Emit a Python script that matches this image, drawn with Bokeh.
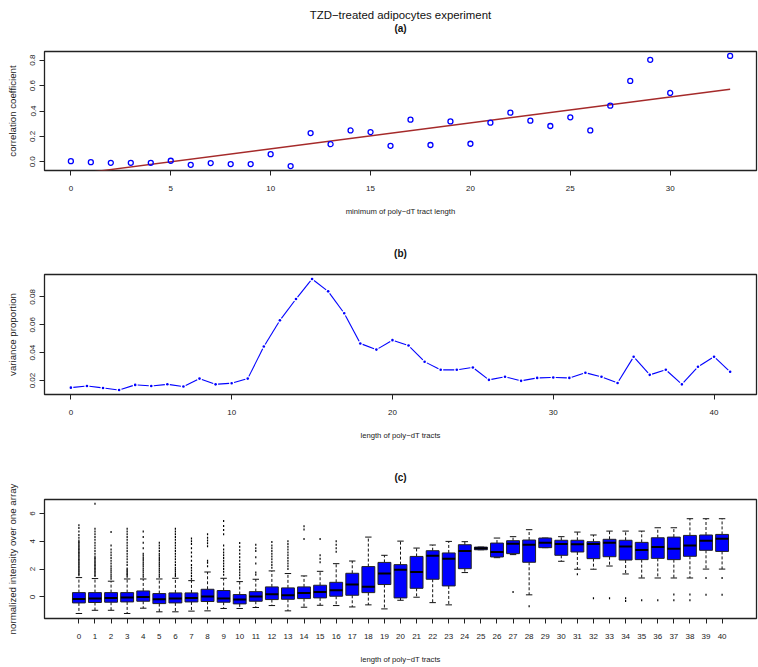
import numpy as np
from bokeh.plotting import figure
from bokeh.models import Title, FixedTicker, Range1d, PrintfTickFormatter
from bokeh.layouts import column
from bokeh.embed import file_html
from bokeh.resources import INLINE

FONT = "Liberation Sans"

# ---------------- data ----------------
main_title = "TZD\u2212treated adipocytes experiment"

# (a) correlation coefficient vs minimum poly-dT tract length
a_x = [0, 1, 2, 3, 4, 5, 6, 7, 8, 9, 10, 11, 12, 13, 14, 15, 16, 17, 18, 19,
       20, 21, 22, 23, 24, 25, 26, 27, 28, 29, 30, 33]
a_y = [0.005, -0.003, -0.008, -0.008, -0.008, 0.008, -0.024, -0.010, -0.018, -0.018,
       0.060, -0.034, 0.226, 0.139, 0.247, 0.234, 0.126, 0.332, 0.132, 0.318,
       0.142, 0.308, 0.387, 0.324, 0.282, 0.350, 0.247, 0.442, 0.637, 0.803,
       0.542, 0.834]
a_fit_intercept = -0.102
a_fit_slope = 0.0204

# (b) variance proportion vs poly-dT tract length
b_x = list(range(42))
b_y = [0.0149, 0.0161, 0.0147, 0.0132, 0.0169, 0.0161, 0.0173, 0.0157, 0.0214, 0.0173,
       0.0181, 0.0214, 0.0444, 0.0632, 0.0785, 0.0929, 0.0840, 0.0683, 0.0466, 0.0422,
       0.0490, 0.0451, 0.0335, 0.0277, 0.0277, 0.0294, 0.0205, 0.0227, 0.0198, 0.0219,
       0.0222, 0.0219, 0.0256, 0.0227, 0.0183, 0.0371, 0.0241, 0.0277, 0.0173, 0.0299,
       0.0371, 0.0263]

# (c) boxplots of normalized intensity by tract length
c_len = list(range(41))
c_lo = [-1.19, -0.96, -0.96, -1.19, -0.81, -1.07, -1.07, -1.02, -1.00, -0.83,
        -0.83, -0.76, -0.62, -1.00, -0.74, -0.60, -0.62, -0.72, -0.57, -0.86,
        -0.24, -0.02, -0.41, -0.57, 1.75, 3.39, 2.82, 3.04, 0.15, 3.54,
        2.56, 1.99, 1.99, 2.22, 1.65, 1.36, 1.36, 1.36, 1.36, 2.00, 2.00]
c_q1 = [-0.43, -0.40, -0.38, -0.36, -0.31, -0.48, -0.43, -0.36, -0.33, -0.38,
        -0.50, -0.31, -0.19, -0.17, -0.12, -0.07, 0.05, 0.12, 0.31, 0.89,
        -0.07, 0.62, 1.27, 0.79, 2.03, 3.39, 2.87, 3.11, 2.49, 3.54,
        2.99, 3.23, 2.75, 2.89, 2.65, 2.68, 2.77, 2.68, 2.92, 3.35, 3.27]
c_med = [-0.14, -0.12, -0.07, -0.05, 0.00, -0.17, -0.12, -0.07, 0.03, -0.12,
         -0.19, 0.03, 0.19, 0.12, 0.29, 0.36, 0.48, 0.89, 0.74, 1.68,
         1.96, 1.79, 2.96, 2.75, 3.30, 3.49, 3.23, 3.82, 3.75, 3.90,
         3.80, 3.78, 3.80, 3.90, 3.63, 3.37, 3.58, 3.47, 3.70, 4.04, 4.18]
c_q3 = [0.31, 0.31, 0.31, 0.31, 0.43, 0.24, 0.29, 0.29, 0.55, 0.46,
        0.17, 0.38, 0.72, 0.65, 0.72, 0.84, 1.05, 1.70, 2.18, 2.48,
        2.32, 2.91, 3.32, 3.16, 3.75, 3.58, 3.87, 4.04, 4.09, 4.23,
        4.07, 4.07, 3.97, 4.14, 4.07, 3.92, 4.25, 4.30, 4.42, 4.45, 4.49]
c_hi = [1.39, 1.32, 1.13, 1.29, 1.29, 1.29, 1.34, 1.17, 1.79, 1.34,
        1.10, 1.27, 1.87, 1.68, 1.51, 1.84, 2.39, 2.58, 4.30, 2.99,
        4.01, 3.51, 3.73, 3.99, 3.97, 3.58, 4.23, 4.33, 4.83, 4.23,
        4.33, 4.66, 4.45, 4.73, 4.73, 4.73, 4.97, 4.97, 5.62, 5.62, 5.62]
c_out = [
    [1.55, 1.65, 1.75, 1.85, 1.95, 2.05, 2.15, 2.25, 2.35, 2.45, 2.55, 2.65, 2.75, 2.85,
     2.95, 3.05, 3.15, 3.25, 3.35, 3.45, 3.55, 3.65, 3.75, 3.85, 3.95, 4.05, 4.25, 4.45,
     4.7, 4.95, 5.15],
    [1.5, 1.6, 1.7, 1.8, 1.9, 2.0, 2.1, 2.2, 2.3, 2.4, 2.5, 2.6, 2.7, 2.8, 2.9, 3.1, 3.3,
     3.5, 3.7, 3.9, 4.1, 4.3, 4.5, 4.7, 4.9, 6.7],
    [1.3, 1.45, 1.6, 1.75, 1.9, 2.05, 2.2, 2.4, 2.6, 2.8, 3.0, 3.2, 3.4, 3.7, 4.66],
    [1.45, 1.55, 1.65, 1.75, 1.85, 1.95, 2.05, 2.3, 2.5, 2.7, 2.9, 3.1, 3.3, 3.5, 3.7,
     3.9, 4.1, 4.3, 4.5, 4.7, 4.9],
    [1.45, 1.6, 1.75, 1.9, 2.05, 2.2, 2.35, 2.5, 2.65, 2.8, 2.95, 3.1, 3.5, 3.9, 4.3, 4.7],
    [1.45, 1.6, 1.75, 1.9, 2.05, 2.2, 2.35, 2.5, 2.65, 2.8, 2.95, 3.1, 3.3, 3.5, 3.7, 3.9],
    [1.5, 1.65, 1.8, 1.95, 2.1, 2.3, 2.5, 2.7, 2.9, 3.1, 3.3, 3.5, 3.7, 3.9, 4.1, 4.3,
     4.5, 4.7, 4.9],
    [1.3, 1.5, 1.7, 1.9, 2.1, 2.3, 2.6, 2.9, 3.2, 3.5, 3.8, 4.0, 4.2],
    [2.2, 2.45, 2.6, 3.65, 3.85, 4.05, 4.25, 4.5],
    [1.6, 1.8, 2.0, 2.2, 2.4, 2.6, 2.8, 3.0, 3.2, 3.4, 3.7, 4.5, 4.8, 5.1, 5.45],
    [1.35, 1.55, 1.75, 1.95, 2.15, 2.35, 2.6, 2.85, 3.1, 3.35, 3.6, 3.87],
    [1.6, 1.75, 2.4, 2.85, 3.3, 3.5, 3.75],
    [2.1, 2.3, 2.5, 2.7, 2.9, 3.1, 3.3, 3.5, 3.7, 3.94],
    [2.0, 2.2, 2.4, 2.6, 2.8, 3.0, 3.2, 3.4, 3.6, 3.8, 4.0],
    [4.16, 4.85, 5.07],
    [2.5, 2.75, 3.0, 4.16],
    [3.25, 3.5, 3.75, 4.0],
    [], [], [], [], [], [], [], [], [], [],
    [0.36],
    [-0.67],
    [],
    [],
    [1.63],
    [-0.09],
    [-0.09],
    [-0.1, -0.3],
    [-0.24],
    [-0.24],
    [0.17, -0.24],
    [0.17, -0.24],
    [1.36, 0.15],
    [1.36, 0.15],
]

# ---------------- styling helpers ----------------
W = 758
FRAME_W = 712
BLUE = "#0000FF"
INK = "#222222"


def style(p, xt, yt, xlabel, ylabel):
    p.outline_line_color = INK
    p.outline_line_width = 1.3
    p.grid.visible = False
    p.background_fill_color = "white"
    p.border_fill_color = "white"
    p.min_border_left = 44
    p.min_border_right = 2
    for ax in list(p.xaxis) + list(p.yaxis):
        ax.axis_line_color = None
        ax.major_tick_out = 5
        ax.major_tick_in = 0
        ax.major_tick_line_color = INK
        ax.minor_tick_line_color = None
        ax.major_label_text_font = FONT
        ax.major_label_text_font_size = "8px"
        ax.major_label_text_color = INK
        ax.axis_label_text_font = FONT
        ax.axis_label_text_font_style = "normal"
        ax.axis_label_text_color = INK
    p.xaxis.axis_label_text_font_size = "7.7px"
    p.yaxis.axis_label_text_font_size = "9.7px"
    p.xaxis.ticker = FixedTicker(ticks=xt)
    p.yaxis.ticker = FixedTicker(ticks=yt)
    p.xaxis.axis_label = xlabel
    p.yaxis.axis_label = ylabel
    p.xaxis.major_label_standoff = 10
    p.xaxis.axis_label_standoff = 13
    p.yaxis.major_label_standoff = 4
    p.yaxis.axis_label_standoff = 10
    p.yaxis.major_label_orientation = "vertical"


def spacer_above(p, px):
    """Blank title used only to reserve space between the frame and the panel titles."""
    p.add_layout(Title(text=" ", text_font_size="1px", standoff=px, vertical_align="top"), "above")


def panel_title(p, text, size="10px", bold=True, standoff=0, offset=0):
    p.add_layout(Title(text=text, align="center", text_font=FONT, text_font_size=size,
                       text_font_style="bold" if bold else "normal", text_color="#111111",
                       standoff=standoff, offset=offset, vertical_align="top"), "above")


# ---------------- panel (a) ----------------
pa = figure(width=W, height=235, output_backend="svg", toolbar_location=None,
            x_range=Range1d(-1.32, 34.32), y_range=Range1d(-0.0687, 0.8687))
pa.min_border_top = 51
pa.min_border_bottom = 65
style(pa, [0, 5, 10, 15, 20, 25, 30], [0.0, 0.2, 0.4, 0.6, 0.8],
      "minimum of poly\u2212dT tract length", "correlation coefficient")
pa.yaxis.formatter = PrintfTickFormatter(format="%.1f")
fit_x = np.array([min(a_x), max(a_x)], dtype=float)
pa.line(fit_x, a_fit_intercept + a_fit_slope * fit_x, line_color="#A52A2A", line_width=1.4)
pa.scatter(a_x, a_y, marker="circle", size=5, fill_color=None, line_color=BLUE, line_width=1.3)
spacer_above(pa, 13)
panel_title(pa, "(a)")
panel_title(pa, main_title, size="11.4px", bold=False, standoff=0, offset=-10)

# ---------------- panel (b) ----------------
bx0, bx1 = -1.64, 42.64
by0, by1 = 0.0100, 0.0961
pb = figure(width=W, height=225, output_backend="svg", toolbar_location=None,
            x_range=Range1d(bx0, bx1), y_range=Range1d(by0, by1))
pb.min_border_top = 39
pb.min_border_bottom = 66
style(pb, [0, 10, 20, 30, 40], [0.02, 0.04, 0.06, 0.08],
      "length of poly\u2212dT tracts", "variance proportion")
pb.yaxis.formatter = PrintfTickFormatter(format="%.2f")
# type="b": segments with small gaps around the points
bx = np.array(b_x, dtype=float)
by = np.array(b_y, dtype=float)
sx = FRAME_W / (bx1 - bx0)
sy = 120.0 / (by1 - by0)
ddx, ddy = np.diff(bx), np.diff(by)
L = np.hypot(ddx * sx, ddy * sy)
f = 2.5 / L
pb.segment(bx[:-1] + ddx * f, by[:-1] + ddy * f, bx[1:] - ddx * f, by[1:] - ddy * f,
           line_color=BLUE, line_width=1.1)
pb.scatter(bx, by, marker="circle", size=2.6, fill_color=BLUE, line_color=None)
spacer_above(pb, 11)
panel_title(pb, "(b)")

# ---------------- panel (c) ----------------
pc = figure(width=W, height=207, output_backend="svg", toolbar_location=None,
            x_range=Range1d(-2.14, 42.14), y_range=Range1d(-1.55, 7.0))
pc.min_border_top = 39
pc.min_border_bottom = 49
style(pc, c_len, [0, 2, 4, 6], "length of poly\u2212dT tracts",
      "normalized intensity over one array")
pos = np.array(c_len, dtype=float)
bw = 0.8
sw = 0.4
# whiskers
pc.segment(pos, np.array(c_q3), pos, np.array(c_hi), line_color="#111111", line_width=1,
           line_dash="3 2")
pc.segment(pos, np.array(c_q1), pos, np.array(c_lo), line_color="#111111", line_width=1,
           line_dash="3 2")
# staples
pc.segment(pos - sw / 2, np.array(c_hi), pos + sw / 2, np.array(c_hi), line_color="#111111", line_width=1)
pc.segment(pos - sw / 2, np.array(c_lo), pos + sw / 2, np.array(c_lo), line_color="#111111", line_width=1)
# boxes
pc.vbar(x=pos, width=bw, bottom=c_q1, top=c_q3, fill_color=BLUE, line_color=INK, line_width=1)
# medians
pc.segment(pos - bw / 2, np.array(c_med), pos + bw / 2, np.array(c_med), line_color="black", line_width=2)
# outliers
ox = [c_len[i] for i, vals in enumerate(c_out) for _ in vals]
oy = [v for vals in c_out for v in vals]
pc.rect(ox, oy, width=1.2, height=2, width_units="screen", height_units="screen",
        fill_color="black", line_color=None)
spacer_above(pc, 12)
panel_title(pc, "(c)")

layout = column(pa, pb, pc, spacing=0)
open("out.html", "w").write(file_html(layout, INLINE))
